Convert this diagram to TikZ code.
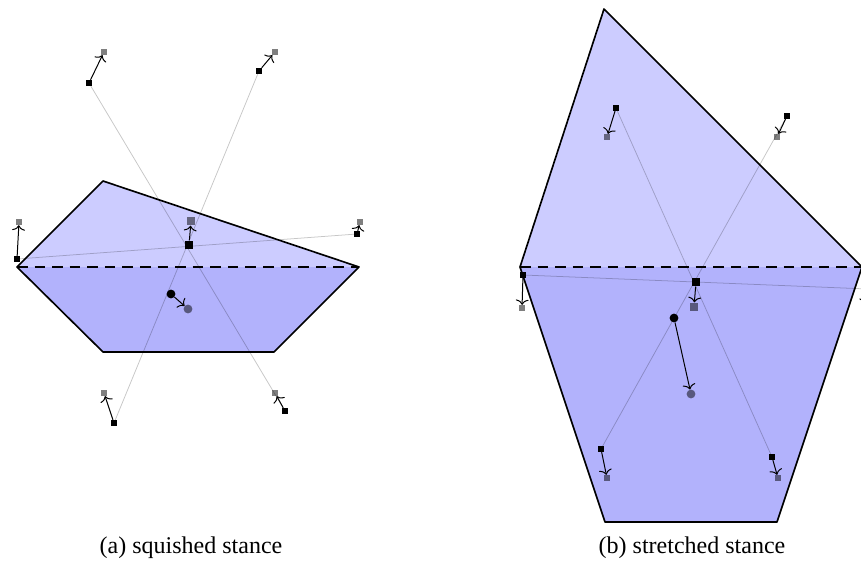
\documentclass[tikz,border=0pt]{standalone}
\usepackage{fontspec}
\setmainfont{Liberation Serif}
\usetikzlibrary{arrows.meta}
\definecolor{upperfill}{RGB}{204,204,255}
\definecolor{lowerfill}{RGB}{178,178,252}
\begin{document}
\begin{tikzpicture}[x=0.03cm,y=-0.03cm,
  foot/.style={rectangle,fill=black,inner sep=0pt,minimum size=5pt},
  foottarget/.style={foot,fill opacity=0.5},
  body/.style={rectangle,fill=black,inner sep=0pt,minimum size=7.5pt},
  bodytarget/.style={body,fill opacity=0.5},
  com/.style={circle,fill=black,inner sep=0pt,minimum size=7.5pt},
  comtarget/.style={com,fill opacity=0.5},
  move/.style={-{To[length=4.5pt,width=11pt]},line width=0.85pt},
  leg/.style={draw=black,draw opacity=0.22,line width=0.65pt},
  hull/.style={draw=black,line width=1.4pt,line join=round},
  support/.style={draw=black,dash pattern=on 9pt off 6pt,line width=2.4pt},
  caption/.style={font=\fontsize{20.5}{24}\selectfont,anchor=base}
]
\useasboundingbox (0,0) rectangle (861,561);
\clip (0,0) rectangle (861,561);

% ---------- (a) squished stance ----------
\coordinate (aL) at (17,267);
\coordinate (aT) at (103,181);
\coordinate (aR) at (359,267);
\coordinate (aBR) at (274,352);
\coordinate (aBL) at (103,352);
\fill[upperfill] (aL) -- (aT) -- (aR) -- cycle;
\fill[lowerfill] (aL) -- (aR) -- (aBR) -- (aBL) -- cycle;

\node[foot] (af1) at (89,83) {};
\node[foot] (af2) at (259,71) {};
\node[foot] (af3) at (17,259) {};
\node[foot] (af4) at (357,234) {};
\node[foot] (af5) at (114,423) {};
\node[foot] (af6) at (285,411) {};
\node[foottarget] (af1t) at (104,52) {};
\node[foottarget] (af2t) at (275,52) {};
\node[foottarget] (af3t) at (19,222) {};
\node[foottarget] (af4t) at (360,222) {};
\node[foottarget] (af5t) at (104,393) {};
\node[foottarget] (af6t) at (275,393) {};
\node[bodytarget] (abt) at (191,221) {};
\node[comtarget] (act) at (188,309) {};

\path[leg] (af1.center) -- (af6.center);
\path[leg] (af2.center) -- (af5.center);
\path[leg] (af3.center) -- (af4.center);

\draw[hull] (aL) -- (aT) -- (aR) -- (aBR) -- (aBL) -- cycle;
\draw[support] (aL) -- (aR);

\node[body] (ab) at (189,245) {};
\node[com] (ac) at (171,294) {};

\draw[move] (af1) -- (af1t);
\draw[move] (af2) -- (af2t);
\draw[move] (af3) -- (af3t);
\draw[move] (af4) -- (af4t);
\draw[move] (af5) -- (af5t);
\draw[move] (af6) -- (af6t);
\draw[move] (ab) -- (abt);
\draw[move] (ac) -- (act);

\node[caption] (capa) at (191,553) {(a) squished stance};

% ---------- (b) stretched stance ----------
\coordinate (bL) at (520,267);
\coordinate (bT) at (604,9);
\coordinate (bR) at (862,267);
\coordinate (bBR) at (777,522);
\coordinate (bBL) at (605,522);
\fill[upperfill] (bL) -- (bT) -- (bR) -- cycle;
\fill[lowerfill] (bL) -- (bR) -- (bBR) -- (bBL) -- cycle;

\node[foot] (bf1) at (616,108) {};
\node[foot] (bf2) at (787,116) {};
\node[foot] (bf3) at (523,275) {};
\node[foot] (bf4) at (868,289) {};
\node[foot] (bf5) at (601,449) {};
\node[foot] (bf6) at (772,457) {};
\node[foottarget] (bf1t) at (607,137) {};
\node[foottarget] (bf2t) at (777,137) {};
\node[foottarget] (bf3t) at (522,308) {};
\node[foottarget] (bf4t) at (864,308) {};
\node[foottarget] (bf5t) at (607,478) {};
\node[foottarget] (bf6t) at (778,478) {};
\node[bodytarget] (bbt) at (694,307) {};
\node[comtarget] (bct) at (691,394) {};

\path[leg] (bf1.center) -- (bf6.center);
\path[leg] (bf2.center) -- (bf5.center);
\path[leg] (bf3.center) -- (bf4.center);

\draw[hull] (bL) -- (bT) -- (bR) -- (bBR) -- (bBL) -- cycle;
\draw[support] (bL) -- (bR);

\node[body] (bb) at (696,282) {};
\node[com] (bc) at (674,318) {};

\draw[move] (bf1) -- (bf1t);
\draw[move] (bf2) -- (bf2t);
\draw[move] (bf3) -- (bf3t);
\draw[move] (bf4) -- (bf4t);
\draw[move] (bf5) -- (bf5t);
\draw[move] (bf6) -- (bf6t);
\draw[move] (bb) -- (bbt);
\draw[move] (bc) -- (bct);

\node[caption] (capb) at (692,553) {(b) stretched stance};
\end{tikzpicture}
\end{document}
